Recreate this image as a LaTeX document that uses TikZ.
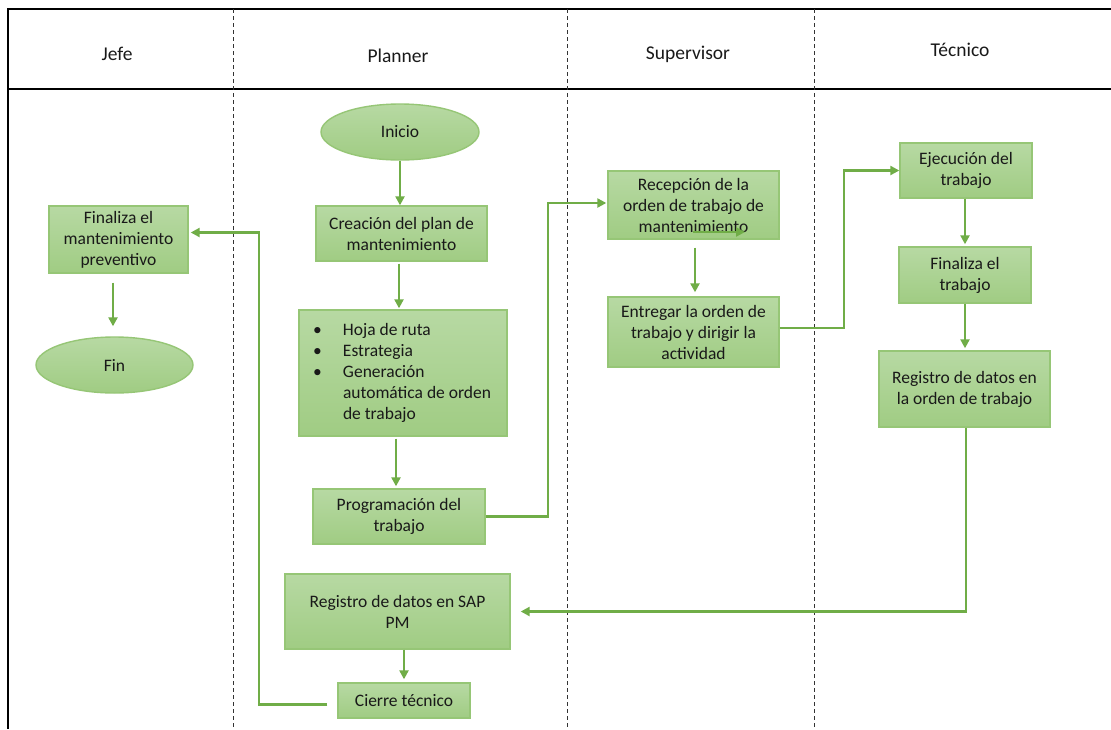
\documentclass[tikz,border=0pt]{standalone}
\usepackage{fontspec}
\setmainfont{Carlito}
\usetikzlibrary{arrows.meta,shapes.geometric,calc}
\definecolor{gtop}{RGB}{183,217,163}
\definecolor{gbot}{RGB}{160,204,131}
\definecolor{gborder}{RGB}{150,198,118}
\definecolor{garrow}{RGB}{112,173,71}
\definecolor{txt}{RGB}{25,25,25}
\begin{document}
\begin{tikzpicture}[x=1pt,y=-1pt,
  box/.style={draw=gborder,line width=1.4pt,top color=gtop,bottom color=gbot,
    align=center,text=txt,font=\fontsize{17.5}{21}\selectfont,inner sep=0pt},
  oval/.style={ellipse,draw=gborder,line width=1.4pt,top color=gtop,bottom color=gbot,
    text=txt,font=\fontsize{17.5}{21}\selectfont,inner sep=0pt},
  arr/.style={draw=garrow,line width=2.3pt,-{Triangle[length=9pt,width=9pt]}},
  lane/.style={draw=black!80,line width=1pt,dash pattern=on 4pt off 3pt},
  head/.style={text=txt,font=\fontsize{19.5}{23}\selectfont}]
\useasboundingbox (0,0) rectangle (1111,729);
\fill[white] (0,0) rectangle (1111,729);
% frame
\coordinate (tl) at (8,9);
\coordinate (tr) at (1111,9);
\coordinate (hl) at (8,89);
\coordinate (hr) at (1111,89);
\coordinate (bl) at (8,729);
\draw[line width=1.1pt] (tr) -- (tl) -- (bl);
\draw[line width=1.1pt] (hl) -- (hr);
\coordinate (d1t) at (233,9); \coordinate (d1b) at (233,729);
\coordinate (d2t) at (567,9); \coordinate (d2b) at (567,729);
\coordinate (d3t) at (814,9); \coordinate (d3b) at (814,729);
\draw[lane] (d1t) -- (d1b);
\draw[lane] (d2t) -- (d2b);
\draw[lane] (d3t) -- (d3b);
\node[head] (hjefe) at (117,54) {Jefe};
\node[head] (hplanner) at (398,56) {Planner};
\node[head] (hsup) at (688,54) {Supervisor};
\node[head] (htec) at (960,50) {Técnico};
% nodes
\node[oval,minimum width=158,minimum height=56] (inicio) at (400,132) {Inicio};
\node[box,minimum width=171,minimum height=55] (creacion) at (401.5,233.5) {Creación del plan de\\mantenimiento};
\node[box,text width=180,inner xsep=14pt,minimum height=126,align=flush left] (bullets) at (403,373)
  {\makebox[30pt][l]{\textbullet}Hoja de ruta\\
   \makebox[30pt][l]{\textbullet}Estrategia\\
   \makebox[30pt][l]{\textbullet}Generación\\
   \hspace*{30pt}automática de orden\\
   \hspace*{30pt}de trabajo};
\node[box,minimum width=172,minimum height=55] (prog) at (399,516.5) {Programación del\\trabajo};
\node[box,minimum width=225,minimum height=75] (sap) at (397.5,611.5) {Registro de datos en SAP\\PM};
\node[box,minimum width=132,minimum height=35] (cierre) at (404,700.5) {Cierre técnico};
\node[box,minimum width=139,minimum height=67] (finmant) at (118.5,239.5) {Finaliza el\\mantenimiento\\preventivo};
\node[oval,minimum width=157,minimum height=56] (fin) at (114.5,365) {Fin};
\node[box,minimum width=171,minimum height=68] (recep) at (693.5,205) {Recepción de la\\orden de trabajo de\\mantenimiento};
\node[box,minimum width=171,minimum height=70] (entreg) at (693.5,332) {Entregar la orden de\\trabajo y dirigir la\\actividad};
\node[box,minimum width=132,minimum height=55] (ejec) at (966,170.5) {Ejecución del\\trabajo};
\node[box,minimum width=132,minimum height=56] (finaliza) at (965,275) {Finaliza el\\trabajo};
\node[box,minimum width=171,minimum height=76] (regord) at (964.5,389) {Registro de datos en\\la orden de trabajo};
% connectors
\draw[arr] (inicio.south) -- ([xshift=-1.5pt]creacion.north);
\draw[arr,shorten <=2pt,shorten >=1pt] ([xshift=-2.5pt]creacion.south) -- ([xshift=-4pt]bullets.north);
\draw[arr,shorten <=2pt,shorten >=2pt] ([xshift=-7pt]bullets.south) -- ([xshift=-3pt]prog.north);
\draw[arr,shorten >=1pt] (prog.east) -- ++(62,0) |- ([yshift=2pt]recep.west);
\coordinate (s1) at (693,232);
\coordinate (s2) at (745,232);
\draw[arr] (s1) -- (s2);
\draw[arr,shorten <=8pt,shorten >=4pt] ([xshift=1.5pt]recep.south) -- ([xshift=1.5pt]entreg.north);
\draw[arr] ([yshift=4pt]entreg.east) -- ++(64,0) |- (ejec.west);
\draw[arr,shorten >=2pt] ([xshift=-1pt]ejec.south) -- (finaliza.north);
\draw[arr,shorten >=2pt] (finaliza.south) -- ([xshift=0.5pt]regord.north);
\draw[arr,shorten >=10pt] ([xshift=1.5pt]regord.south) |- (sap.east);
\draw[arr,shorten >=3pt] ([xshift=6.5pt]sap.south) -- (cierre.north);
\draw[arr,shorten <=10pt,shorten >=2pt] ([yshift=-4pt]cierre.west) -- ++(-78,0) |- ([yshift=7pt]finmant.east);
\draw[arr,shorten <=9pt,shorten >=10pt] ([xshift=-5.5pt]finmant.south) -- ([xshift=-1.5pt]fin.north);
\end{tikzpicture}
\end{document}
